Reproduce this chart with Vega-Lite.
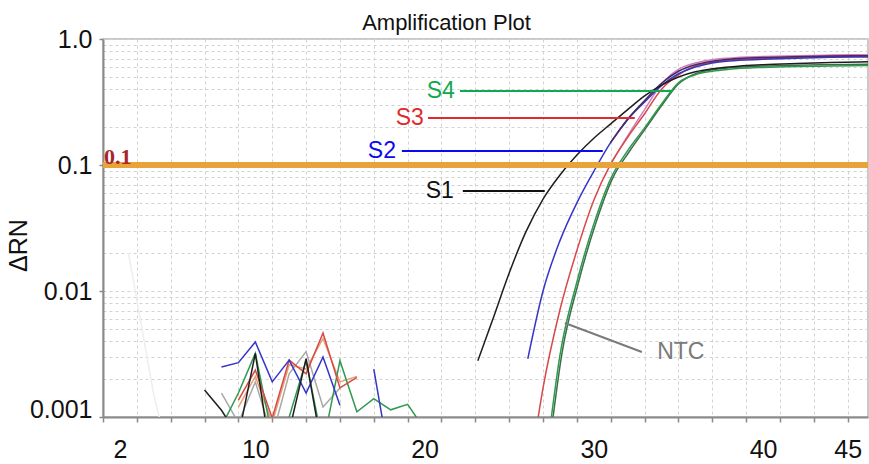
{
  "$schema": "https://vega.github.io/schema/vega-lite/v6.json",
  "width": 765,
  "height": 378,
  "autosize": {"type": "none"},
  "padding": {"left": 103, "top": 39, "right": 1, "bottom": 47},
  "background": "white",
  "title": {"text": "Amplification Plot", "font": "Liberation Sans", "fontSize": 22, "fontWeight": "normal", "color": "#111111", "anchor": "middle", "dx": -39, "dy": 18, "offset": 10},
  "config": {"view": {"stroke": "#b8b8b8", "strokeWidth": 1.5}, "font": "Liberation Sans"},
  "datasets": {
    "base": [
      {"w": "ghost1", "s": "ghost", "c": 2.5, "v": 0.02},
      {"w": "ghost1", "s": "ghost", "c": 3.2, "v": 0.006},
      {"w": "ghost1", "s": "ghost", "c": 4, "v": 0.0015},
      {"w": "ghost1", "s": "ghost", "c": 4.5, "v": 0.0008},
      {"w": "Gb", "s": "grey", "c": 8, "v": 0.00155},
      {"w": "Gb", "s": "grey", "c": 9, "v": 0.0009},
      {"w": "Gb", "s": "grey", "c": 10, "v": 0.0019},
      {"w": "Gb", "s": "grey", "c": 11, "v": 0.0007},
      {"w": "Gb", "s": "grey", "c": 12, "v": 0.0022},
      {"w": "Gb", "s": "grey", "c": 13, "v": 0.0033},
      {"w": "Gb", "s": "grey", "c": 14, "v": 0.0012},
      {"w": "Gb", "s": "grey", "c": 15, "v": 0.0017},
      {"w": "Ob", "s": "orange", "c": 9, "v": 0.0012},
      {"w": "Ob", "s": "orange", "c": 10, "v": 0.0021},
      {"w": "Ob", "s": "orange", "c": 11, "v": 0.0009},
      {"w": "Ob", "s": "orange", "c": 12, "v": 0.0026},
      {"w": "Ob", "s": "orange", "c": 13, "v": 0.0024},
      {"w": "Ob", "s": "orange", "c": 14, "v": 0.0042},
      {"w": "Ob", "s": "orange", "c": 15, "v": 0.0019},
      {"w": "Ob", "s": "orange", "c": 16, "v": 0.0021},
      {"w": "S4b", "s": "S4", "c": 8.2, "v": 0.00095},
      {"w": "S4b", "s": "S4", "c": 9, "v": 0.00155},
      {"w": "S4b", "s": "S4", "c": 10, "v": 0.0032},
      {"w": "S4b", "s": "S4", "c": 11, "v": 0.0007},
      {"w": "S4b", "s": "S4", "c": 12, "v": 0.001},
      {"w": "S4b", "s": "S4", "c": 13, "v": 0.0028},
      {"w": "S4b", "s": "S4", "c": 14, "v": 0.0006},
      {"w": "S4b", "s": "S4", "c": 15, "v": 0.0028},
      {"w": "S4b", "s": "S4", "c": 16, "v": 0.0011},
      {"w": "S4b", "s": "S4", "c": 17, "v": 0.0014},
      {"w": "S4b", "s": "S4", "c": 18, "v": 0.00114},
      {"w": "S4b", "s": "S4", "c": 19, "v": 0.00126},
      {"w": "S4b", "s": "S4", "c": 20, "v": 0.0008},
      {"w": "S3b", "s": "S3", "c": 9, "v": 0.00136},
      {"w": "S3b", "s": "S3", "c": 10, "v": 0.00236},
      {"w": "S3b", "s": "S3", "c": 11, "v": 0.00098},
      {"w": "S3b", "s": "S3", "c": 12, "v": 0.00283},
      {"w": "S3b", "s": "S3", "c": 13, "v": 0.0022},
      {"w": "S3b", "s": "S3", "c": 14, "v": 0.00464},
      {"w": "S3b", "s": "S3", "c": 15, "v": 0.0017},
      {"w": "S3b", "s": "S3", "c": 16, "v": 0.00206},
      {"w": "S2b", "s": "S2", "c": 8, "v": 0.00249},
      {"w": "S2b", "s": "S2", "c": 9, "v": 0.0027},
      {"w": "S2b", "s": "S2", "c": 10, "v": 0.00394},
      {"w": "S2b", "s": "S2", "c": 11, "v": 0.0019},
      {"w": "S2b", "s": "S2", "c": 12, "v": 0.00283},
      {"w": "S2b", "s": "S2", "c": 13, "v": 0.00155},
      {"w": "S2b", "s": "S2", "c": 14, "v": 0.003},
      {"w": "S2b", "s": "S2", "c": 15, "v": 0.00124},
      {"w": "S2c", "s": "S2", "c": 17, "v": 0.0024},
      {"w": "S2c", "s": "S2", "c": 18, "v": 0.0004},
      {"w": "S1b", "s": "S1", "c": 7, "v": 0.00164},
      {"w": "S1b", "s": "S1", "c": 8, "v": 0.00113},
      {"w": "S1b", "s": "S1", "c": 9, "v": 0.0007},
      {"w": "S1b", "s": "S1", "c": 10, "v": 0.0032},
      {"w": "S1b", "s": "S1", "c": 11, "v": 0.0004},
      {"w": "S1b", "s": "S1", "c": 12, "v": 0.00077},
      {"w": "S1b", "s": "S1", "c": 13, "v": 0.0029},
      {"w": "S1b", "s": "S1", "c": 14, "v": 0.0005}
    ],
    "amp": [
      {"w": "S4r", "s": "S4r", "c": 27.5, "v": 0.0008},
      {"w": "S4r", "s": "S4r", "c": 28.1, "v": 0.0031},
      {"w": "S4r", "s": "S4r", "c": 29.1, "v": 0.0118},
      {"w": "S4r", "s": "S4r", "c": 30.1, "v": 0.034},
      {"w": "S4r", "s": "S4r", "c": 31.1, "v": 0.078},
      {"w": "S4r", "s": "S4r", "c": 32.1, "v": 0.128},
      {"w": "S4r", "s": "S4r", "c": 33, "v": 0.19},
      {"w": "S4r", "s": "S4r", "c": 34, "v": 0.295},
      {"w": "S4r", "s": "S4r", "c": 35, "v": 0.44},
      {"w": "S4r", "s": "S4r", "c": 36, "v": 0.53},
      {"w": "S4r", "s": "S4r", "c": 37, "v": 0.57},
      {"w": "S4r", "s": "S4r", "c": 38, "v": 0.59},
      {"w": "S4r", "s": "S4r", "c": 40, "v": 0.61},
      {"w": "S4r", "s": "S4r", "c": 42, "v": 0.62},
      {"w": "S4r", "s": "S4r", "c": 44, "v": 0.625},
      {"w": "S4r", "s": "S4r", "c": 46.2, "v": 0.63},
      {"w": "S4a", "s": "S4", "c": 27.4, "v": 0.0008},
      {"w": "S4a", "s": "S4", "c": 28, "v": 0.0031},
      {"w": "S4a", "s": "S4", "c": 29, "v": 0.0118},
      {"w": "S4a", "s": "S4", "c": 30, "v": 0.034},
      {"w": "S4a", "s": "S4", "c": 31, "v": 0.078},
      {"w": "S4a", "s": "S4", "c": 32, "v": 0.13},
      {"w": "S4a", "s": "S4", "c": 33, "v": 0.197},
      {"w": "S4a", "s": "S4", "c": 34, "v": 0.305},
      {"w": "S4a", "s": "S4", "c": 35, "v": 0.45},
      {"w": "S4a", "s": "S4", "c": 36, "v": 0.52},
      {"w": "S4a", "s": "S4", "c": 37, "v": 0.555},
      {"w": "S4a", "s": "S4", "c": 38, "v": 0.575},
      {"w": "S4a", "s": "S4", "c": 40, "v": 0.595},
      {"w": "S4a", "s": "S4", "c": 42, "v": 0.605},
      {"w": "S4a", "s": "S4", "c": 44, "v": 0.61},
      {"w": "S4a", "s": "S4", "c": 46.2, "v": 0.615},
      {"w": "S3r", "s": "S3r", "c": 31, "v": 0.102},
      {"w": "S3r", "s": "S3r", "c": 32, "v": 0.17},
      {"w": "S3r", "s": "S3r", "c": 33, "v": 0.275},
      {"w": "S3r", "s": "S3r", "c": 34, "v": 0.44},
      {"w": "S3r", "s": "S3r", "c": 35, "v": 0.575},
      {"w": "S3r", "s": "S3r", "c": 36, "v": 0.645},
      {"w": "S3r", "s": "S3r", "c": 37, "v": 0.685},
      {"w": "S3r", "s": "S3r", "c": 38, "v": 0.705},
      {"w": "S3r", "s": "S3r", "c": 40, "v": 0.725},
      {"w": "S3r", "s": "S3r", "c": 42, "v": 0.738},
      {"w": "S3r", "s": "S3r", "c": 44, "v": 0.745},
      {"w": "S3r", "s": "S3r", "c": 46.2, "v": 0.75},
      {"w": "S3a", "s": "S3", "c": 26.6, "v": 0.0008},
      {"w": "S3a", "s": "S3", "c": 27, "v": 0.0017},
      {"w": "S3a", "s": "S3", "c": 28, "v": 0.0071},
      {"w": "S3a", "s": "S3", "c": 29, "v": 0.021},
      {"w": "S3a", "s": "S3", "c": 30, "v": 0.0525},
      {"w": "S3a", "s": "S3", "c": 31, "v": 0.102},
      {"w": "S3a", "s": "S3", "c": 32, "v": 0.166},
      {"w": "S3a", "s": "S3", "c": 33, "v": 0.255},
      {"w": "S3a", "s": "S3", "c": 34, "v": 0.4},
      {"w": "S3a", "s": "S3", "c": 35, "v": 0.52},
      {"w": "S3a", "s": "S3", "c": 36, "v": 0.61},
      {"w": "S3a", "s": "S3", "c": 37, "v": 0.655},
      {"w": "S3a", "s": "S3", "c": 38, "v": 0.68},
      {"w": "S3a", "s": "S3", "c": 40, "v": 0.7},
      {"w": "S3a", "s": "S3", "c": 42, "v": 0.715},
      {"w": "S3a", "s": "S3", "c": 44, "v": 0.725},
      {"w": "S3a", "s": "S3", "c": 46.2, "v": 0.73},
      {"w": "S2a", "s": "S2", "c": 26.1, "v": 0.0029},
      {"w": "S2a", "s": "S2", "c": 27, "v": 0.01},
      {"w": "S2a", "s": "S2", "c": 28, "v": 0.0251},
      {"w": "S2a", "s": "S2", "c": 29, "v": 0.0501},
      {"w": "S2a", "s": "S2", "c": 30, "v": 0.0891},
      {"w": "S2a", "s": "S2", "c": 31, "v": 0.151},
      {"w": "S2a", "s": "S2", "c": 32, "v": 0.229},
      {"w": "S2a", "s": "S2", "c": 33, "v": 0.316},
      {"w": "S2a", "s": "S2", "c": 34, "v": 0.427},
      {"w": "S2a", "s": "S2", "c": 35, "v": 0.53},
      {"w": "S2a", "s": "S2", "c": 36, "v": 0.6},
      {"w": "S2a", "s": "S2", "c": 37, "v": 0.645},
      {"w": "S2a", "s": "S2", "c": 38, "v": 0.67},
      {"w": "S2a", "s": "S2", "c": 40, "v": 0.69},
      {"w": "S2a", "s": "S2", "c": 42, "v": 0.705},
      {"w": "S2a", "s": "S2", "c": 44, "v": 0.715},
      {"w": "S2a", "s": "S2", "c": 46.2, "v": 0.72},
      {"w": "S2r", "s": "S2r", "c": 31, "v": 0.151},
      {"w": "S2r", "s": "S2r", "c": 32, "v": 0.232},
      {"w": "S2r", "s": "S2r", "c": 33, "v": 0.325},
      {"w": "S2r", "s": "S2r", "c": 34, "v": 0.445},
      {"w": "S2r", "s": "S2r", "c": 35, "v": 0.555},
      {"w": "S2r", "s": "S2r", "c": 36, "v": 0.625},
      {"w": "S2r", "s": "S2r", "c": 37, "v": 0.665},
      {"w": "S2r", "s": "S2r", "c": 38, "v": 0.69},
      {"w": "S2r", "s": "S2r", "c": 40, "v": 0.712},
      {"w": "S2r", "s": "S2r", "c": 42, "v": 0.724},
      {"w": "S2r", "s": "S2r", "c": 44, "v": 0.732},
      {"w": "S2r", "s": "S2r", "c": 46.2, "v": 0.737},
      {"w": "S1a", "s": "S1", "c": 23.15, "v": 0.0028},
      {"w": "S1a", "s": "S1", "c": 24, "v": 0.0058},
      {"w": "S1a", "s": "S1", "c": 25, "v": 0.0139},
      {"w": "S1a", "s": "S1", "c": 26, "v": 0.0297},
      {"w": "S1a", "s": "S1", "c": 27, "v": 0.0537},
      {"w": "S1a", "s": "S1", "c": 28, "v": 0.0833},
      {"w": "S1a", "s": "S1", "c": 29, "v": 0.12},
      {"w": "S1a", "s": "S1", "c": 30, "v": 0.163},
      {"w": "S1a", "s": "S1", "c": 31, "v": 0.212},
      {"w": "S1a", "s": "S1", "c": 32, "v": 0.275},
      {"w": "S1a", "s": "S1", "c": 33, "v": 0.353},
      {"w": "S1a", "s": "S1", "c": 34, "v": 0.431},
      {"w": "S1a", "s": "S1", "c": 35, "v": 0.5},
      {"w": "S1a", "s": "S1", "c": 36, "v": 0.55},
      {"w": "S1a", "s": "S1", "c": 37, "v": 0.58},
      {"w": "S1a", "s": "S1", "c": 38, "v": 0.6},
      {"w": "S1a", "s": "S1", "c": 40, "v": 0.625},
      {"w": "S1a", "s": "S1", "c": 42, "v": 0.64},
      {"w": "S1a", "s": "S1", "c": 44, "v": 0.652},
      {"w": "S1a", "s": "S1", "c": 46.2, "v": 0.66}
    ],
    "threshold": [{"c": 1, "v": 0.1, "t": "0.1"}],
    "labels": [
      {"lab": "S4", "c": 22.09, "c2": 34.67, "v": 0.387, "v2": 0.387, "tc": 20.96},
      {"lab": "S3", "c": 20.2, "c2": 32.42, "v": 0.236, "v2": 0.236, "tc": 19.13},
      {"lab": "S2", "c": 18.66, "c2": 30.53, "v": 0.129, "v2": 0.129, "tc": 17.48},
      {"lab": "S1", "c": 22.26, "c2": 27.1, "v": 0.0622, "v2": 0.0622, "tc": 20.9},
      {"lab": "NTC", "c": 28.29, "c2": 32.84, "v": 0.00557, "v2": 0.00328, "tc": 35.14}
    ]
  },
  "resolve": {"scale": {"color": "independent"}, "axis": {"x": "independent"}},
  "layer": [
    {
      "data": {"name": "base"},
      "mark": {"type": "line", "strokeWidth": 1.5, "clip": true},
      "encoding": {
        "x": {
          "field": "c", "type": "quantitative",
          "scale": {"domain": [1, 46.2], "nice": false, "zero": false},
          "axis": {
            "title": null,
            "orient": "bottom",
            "values": [1, 3, 5, 7, 9, 11, 13, 15, 17, 19, 21, 23, 25, 27, 29, 31, 33, 35, 37, 39, 41, 43, 45],
            "labels": false,
            "tickSize": 5,
            "tickWidth": 1.5,
            "tickColor": "#8a8a8a",
            "grid": true,
            "gridColor": "#d2d2d2",
            "gridDash": [3, 3],
            "gridWidth": 1,
            "domainColor": "#8a8a8a",
            "domainWidth": 2
          }
        },
        "y": {
          "field": "v", "type": "quantitative",
          "scale": {"type": "log", "domain": [0.001, 1], "nice": false},
          "axis": {
            "title": "ΔRN",
            "titleFont": "Liberation Sans",
            "titleFontSize": 25,
            "titleFontWeight": "normal",
            "titleColor": "#111111",
            "titleAngle": 270,
            "titleAlign": "center",
            "titleBaseline": "middle",
            "titleX": -85,
            "titleY": 206,
            "values": [0.001, 0.002, 0.003, 0.004, 0.005, 0.006, 0.007, 0.008, 0.009, 0.01, 0.02, 0.03, 0.04, 0.05, 0.06, 0.07, 0.08, 0.09, 0.1, 0.2, 0.3, 0.4, 0.5, 0.6, 0.7, 0.8, 0.9, 1],
            "labelExpr": "abs(log(datum.value)/LN10 - round(log(datum.value)/LN10)) < 0.000001 ? (datum.value > 0.5 ? '1.0' : format(datum.value, '~g')) : ''",
            "labelOverlap": false,
            "labelFlush": false,
            "labelFont": "Liberation Sans",
            "labelFontSize": 25,
            "labelColor": "#111111",
            "labelPadding": 7,
            "labelBaseline": {"condition": {"test": "datum.value < 0.0015", "value": "alphabetic"}, "value": "middle"},
            "tickSize": 4,
            "tickWidth": 1.5,
            "tickColor": "#8a8a8a",
            "tickOpacity": {"condition": {"test": "abs(log(datum.value)/LN10 - round(log(datum.value)/LN10)) < 0.000001", "value": 1}, "value": 0},
            "grid": true,
            "gridColor": "#d2d2d2",
            "gridDash": [3, 3],
            "gridWidth": 1,
            "domainColor": "#8a8a8a",
            "domainWidth": 2
          }
        },
        "detail": {"field": "w"},
        "color": {
          "field": "s", "type": "nominal", "legend": null,
          "scale": {
            "domain": ["S1", "S2", "S3", "S4", "S4r", "S3r", "S2r", "grey", "orange", "ghost"],
            "range": ["#1e1e1e", "#3535c8", "#d84848", "#2e9a4e", "#3d6e48", "#d27bc0", "#4a2a5a", "#a8a8a8", "#e8a070", "#eeeeee"]
          }
        }
      }
    },
    {
      "data": {"name": "amp"},
      "mark": {"type": "line", "strokeWidth": 1.5, "clip": true, "interpolate": "monotone"},
      "encoding": {
        "x": {"field": "c", "type": "quantitative", "axis": null},
        "y": {"field": "v", "type": "quantitative"},
        "detail": {"field": "w"},
        "color": {
          "field": "s", "type": "nominal", "legend": null,
          "scale": {
            "domain": ["S1", "S2", "S3", "S4", "S4r", "S3r", "S2r", "grey", "orange", "ghost"],
            "range": ["#1e1e1e", "#3535c8", "#d84848", "#2e9a4e", "#3d6e48", "#d27bc0", "#4a2a5a", "#a8a8a8", "#e8a070", "#eeeeee"]
          }
        }
      }
    },
    {
      "data": {"name": "threshold"},
      "mark": {"type": "rule", "color": "#e9a33b", "strokeWidth": 6},
      "encoding": {
        "y": {"field": "v", "type": "quantitative"}
      }
    },
    {
      "data": {"name": "threshold"},
      "mark": {"type": "text", "font": "Liberation Serif", "fontWeight": "bold", "fontSize": 22, "color": "#a82628", "align": "left", "baseline": "alphabetic", "dx": 1, "dy": -1},
      "encoding": {
        "x": {"field": "c", "type": "quantitative", "axis": null},
        "y": {"field": "v", "type": "quantitative"},
        "text": {"field": "t"}
      }
    },
    {
      "data": {"name": "labels"},
      "mark": {"type": "rule", "strokeWidth": 2},
      "encoding": {
        "x": {"field": "c", "type": "quantitative", "axis": null},
        "x2": {"field": "c2"},
        "y": {"field": "v", "type": "quantitative"},
        "y2": {"field": "v2"},
        "color": {
          "field": "lab", "type": "nominal", "legend": null,
          "scale": {"domain": ["S1", "S2", "S3", "S4", "NTC"], "range": ["#111111", "#0a0af0", "#e02a2e", "#12a84e", "#7a7a7a"]}
        }
      }
    },
    {
      "data": {"name": "labels"},
      "mark": {"type": "text", "font": "Liberation Sans", "fontSize": 23, "align": "center", "baseline": "middle"},
      "encoding": {
        "x": {
          "field": "tc", "type": "quantitative",
          "axis": {
            "title": null,
            "orient": "bottom",
            "values": [2, 10, 20, 30, 40, 45],
            "ticks": false,
            "tickSize": 0,
            "grid": false,
            "domain": false,
            "labelOverlap": false,
            "labelFlush": false,
            "labelFont": "Liberation Sans",
            "labelFontSize": 25,
            "labelColor": "#111111",
            "labelPadding": 20
          }
        },
        "y": {"field": "v2", "type": "quantitative"},
        "text": {"field": "lab"},
        "color": {
          "field": "lab", "type": "nominal", "legend": null,
          "scale": {"domain": ["S1", "S2", "S3", "S4", "NTC"], "range": ["#111111", "#0a0af0", "#e02a2e", "#12a84e", "#7a7a7a"]}
        }
      }
    }
  ]
}
